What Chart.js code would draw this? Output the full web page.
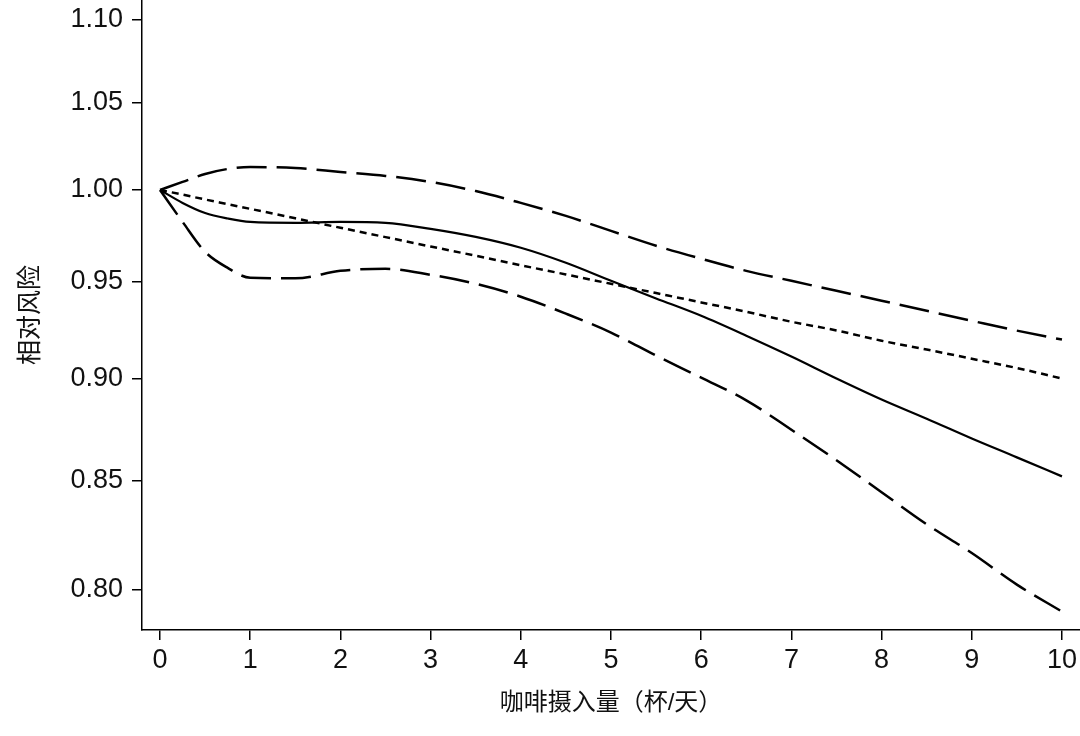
<!DOCTYPE html>
<html>
<head>
<meta charset="utf-8">
<script src="https://cdn.jsdelivr.net/npm/chart.js@4"></script>
<style>
  html, body { margin: 0; padding: 0; background: #fff; }
  canvas { display: block; }
</style>
</head>
<body>
<canvas id="rrChart" width="1080" height="736"></canvas>
<script>
// coffee cups per day
const doses = [0, 0.25, 0.5, 0.75, 1, 1.5, 2, 2.5, 3, 3.5, 4, 4.5, 5, 5.5, 6, 6.5, 7, 7.5, 8, 8.5, 9, 9.5, 10];

// spline estimate (solid)
const rrSpline = [1.000, 0.9928, 0.9872, 0.9842, 0.9823, 0.9818, 0.9823, 0.9818, 0.9785, 0.9741, 0.9682, 0.9601, 0.9505, 0.9412, 0.9321, 0.9218, 0.9111, 0.9000, 0.8895, 0.8800, 0.8703, 0.8612, 0.8521];
// 95% CI
const ciUpper = [1.000, 1.0045, 1.0090, 1.0118, 1.0129, 1.0123, 1.0101, 1.0079, 1.0045, 0.9994, 0.9928, 0.9856, 0.9774, 0.9693, 0.9623, 0.9558, 0.9505, 0.9452, 0.9400, 0.9347, 0.9295, 0.9244, 0.9198];
const ciLower = [1.000, 0.9823, 0.9660, 0.9574, 0.9521, 0.9518, 0.9558, 0.9569, 0.9537, 0.9489, 0.9421, 0.9332, 0.9234, 0.9116, 0.9004, 0.8891, 0.8746, 0.8598, 0.8446, 0.8296, 0.8164, 0.8021, 0.7901];
// linear trend (dotted)
const rrLinear = [1.000, 0.9974, 0.9947, 0.9921, 0.9895, 0.9843, 0.9791, 0.9740, 0.9689, 0.9639, 0.9588, 0.9539, 0.9489, 0.9440, 0.9391, 0.9342, 0.9290, 0.9245, 0.9192, 0.9147, 0.9100, 0.9053, 0.9000];

const xTicks = [0, 1, 2, 3, 4, 5, 6, 7, 8, 9, 10];
const yTicks = [0.80, 0.85, 0.90, 0.95, 1.00, 1.05, 1.10];

const toPoints = arr => doses.map((d, i) => ({ x: d, y: arr[i] }));

const fontFamily = '"Liberation Sans", Arial, "Noto Sans CJK SC", sans-serif';

const ctx = document.getElementById('rrChart');

new Chart(ctx, {
    type: 'line',
    data: {
        datasets: [
            {
                label: 'upper',
                data: toPoints(ciUpper),
                borderColor: '#000',
                borderWidth: 2.5,
                borderDash: [30, 10]
            },
            {
                label: 'lower',
                data: toPoints(ciLower),
                borderColor: '#000',
                borderWidth: 2.5,
                borderDash: [30, 10]
            },
            {
                label: 'linear',
                data: toPoints(rrLinear),
                borderColor: '#000',
                borderWidth: 2.5,
                borderDash: [7, 5]
            },
            {
                label: 'spline',
                data: toPoints(rrSpline),
                borderColor: '#000',
                borderWidth: 2.2
            }
        ]
    },
    options: {
        responsive: false,
        animation: false,
        layout: { padding: 0 },
        elements: {
            point: { radius: 0 },
            line: { cubicInterpolationMode: 'monotone', fill: false }
        },
        plugins: {
            legend: { display: false },
            tooltip: { enabled: false }
        },
        scales: {
            x: {
                type: 'linear',
                min: -0.2,
                max: 10.2,
                afterBuildTicks: scale => { scale.ticks = xTicks.map(v => ({ value: v })); },
                afterFit: scale => {
                    scale.height = 106;
                    scale.paddingLeft = 0;
                    scale.paddingRight = 0;
                },
                grid: { drawOnChartArea: false, drawTicks: true, tickLength: 10, color: '#000', lineWidth: 1.5 },
                border: { color: '#000', width: 1.5 },
                ticks: {
                    autoSkip: false,
                    maxRotation: 0,
                    padding: 4,
                    color: '#111',
                    font: { family: fontFamily, size: 27 }
                },
                title: {
                    display: true,
                    text: '咖啡摄入量（杯/天）',
                    color: '#111',
                    padding: { top: 0, bottom: 18 },
                    font: { family: fontFamily, size: 24 }
                }
            },
            y: {
                type: 'logarithmic',
                min: 0.782,
                max: 1.112,
                bounds: 'data',
                afterBuildTicks: scale => { scale.ticks = yTicks.map(v => ({ value: v })); },
                afterFit: scale => {
                    scale.width = 142;
                    scale.paddingTop = 0;
                    scale.paddingBottom = 0;
                },
                grid: { drawOnChartArea: false, drawTicks: true, tickLength: 10, color: '#000', lineWidth: 1.5 },
                border: { color: '#000', width: 1.5 },
                ticks: {
                    autoSkip: false,
                    padding: 9,
                    color: '#111',
                    font: { family: fontFamily, size: 27 },
                    callback: v => Number(v).toFixed(2)
                },
                title: {
                    display: true,
                    text: '相对风险',
                    color: '#111',
                    padding: { top: 16, bottom: 0 },
                    font: { family: fontFamily, size: 25 }
                }
            }
        }
    }
});
</script>
</body>
</html>
